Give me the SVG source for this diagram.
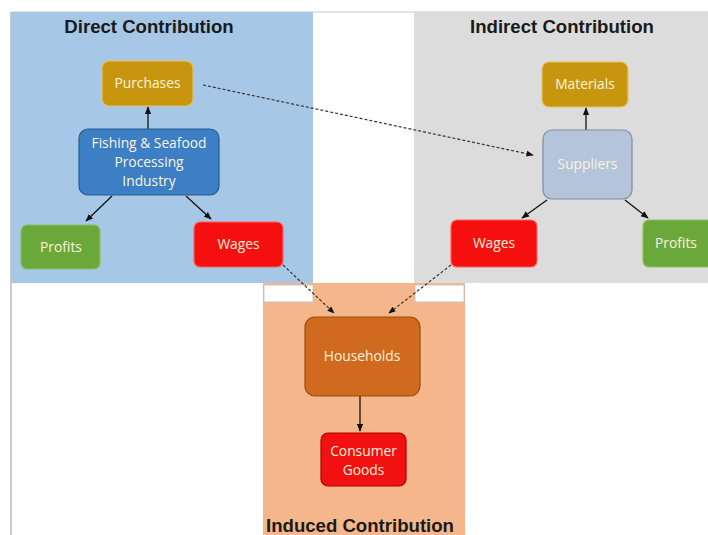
<svg xmlns="http://www.w3.org/2000/svg" width="708" height="535" viewBox="0 0 708 535">
<style>
.title{font-family:"Liberation Sans","DejaVu Sans",sans-serif;font-weight:bold;font-size:18.6px;fill:#1a1a1a;text-anchor:middle}
.lbl{font-family:"Open Sans","Liberation Sans",sans-serif;font-size:13.8px;fill:#fbf3dc;text-anchor:middle}
.box{stroke-width:1.2}
.solid{stroke:#111;stroke-width:1.3;fill:none;marker-end:url(#ah)}
.dash{stroke:#333;stroke-width:1.2;fill:none;stroke-dasharray:3 2;marker-end:url(#ah)}
</style>
<defs>
<marker id="ah" viewBox="0 0 10 10" refX="9" refY="5" markerWidth="6" markerHeight="6" orient="auto">
<path d="M0,1 L10,5 L0,9 z" fill="#111"/>
</marker>
</defs>
<rect width="708" height="535" fill="#ffffff"/>
<line x1="11" y1="12" x2="11" y2="535" stroke="#b8b8b8" stroke-width="1.5"/>
<line x1="11" y1="12" x2="708" y2="12" stroke="#c8c8c8" stroke-width="1"/>
<g id="panel-direct">
<rect x="11" y="12" width="302" height="271" fill="#a7c7e7"/>
<text class="title" x="149" y="33">Direct Contribution</text>
</g>
<g id="panel-indirect">
<rect x="414" y="12" width="294" height="271" fill="#dcdcdc"/>
<text class="title" x="562" y="33">Indirect Contribution</text>
</g>
<g id="panel-induced">
<rect x="263" y="283" width="202" height="252" fill="#f4b68a"/>
<rect x="264" y="285" width="49" height="17" fill="#ffffff" stroke="#bdbdbd" stroke-width="0.8"/>
<rect x="415" y="285" width="49" height="17" fill="#ffffff" stroke="#bdbdbd" stroke-width="0.8"/>
<text class="title" x="360" y="532">Induced Contribution</text>
</g>
<g id="connectors">
<line class="solid" x1="148" y1="129" x2="148" y2="107"/>
<line class="solid" x1="112" y1="196" x2="86" y2="221"/>
<line class="solid" x1="186" y1="196" x2="211" y2="219"/>
<line class="dash" x1="203" y1="85" x2="533" y2="155"/>
<line class="solid" x1="586" y1="130" x2="586" y2="108"/>
<line class="solid" x1="547" y1="200" x2="522" y2="218"/>
<line class="solid" x1="625" y1="200" x2="648" y2="218"/>
<line class="dash" x1="283" y1="265" x2="334" y2="313"/>
<line class="dash" x1="451" y1="265" x2="389" y2="313"/>
<line class="solid" x1="360" y1="396" x2="360" y2="431"/>
</g>
<g id="purchases">
<rect class="box" x="102" y="61" width="91" height="45" rx="7" fill="#c8950e" stroke="#e8c260"/>
<text class="lbl" x="147.5" y="88">Purchases</text>
</g>
<g id="fishing">
<rect class="box" x="79" y="129" width="140" height="66" rx="9" fill="#3d7fc4" stroke="#2a5a8e" stroke-width="2"/>
<text class="lbl" x="149" y="148">Fishing &amp; Seafood</text>
<text class="lbl" x="149" y="167">Processing</text>
<text class="lbl" x="149" y="186">Industry</text>
</g>
<g id="profits-direct">
<rect class="box" x="21" y="225" width="79" height="44" rx="6" fill="#6aa83c" stroke="#8cc060"/>
<text class="lbl" x="61" y="252">Profits</text>
</g>
<g id="wages-direct">
<rect class="box" x="194" y="222" width="89" height="45" rx="6" fill="#f50f0f" stroke="#ff6060"/>
<text class="lbl" x="238.5" y="249">Wages</text>
</g>
<g id="materials">
<rect class="box" x="542" y="62" width="86" height="45" rx="7" fill="#c8950e" stroke="#e8c260"/>
<text class="lbl" x="585" y="89">Materials</text>
</g>
<g id="suppliers">
<rect class="box" x="543" y="130" width="89" height="69" rx="9" fill="#b4c4da" stroke="#7d8da3" stroke-width="2"/>
<text class="lbl" x="587.5" y="169">Suppliers</text>
</g>
<g id="wages-indirect">
<rect class="box" x="451" y="220" width="86" height="47" rx="6" fill="#f50f0f" stroke="#ff6060"/>
<text class="lbl" x="494" y="248">Wages</text>
</g>
<g id="profits-indirect">
<rect class="box" x="643" y="220" width="70" height="47" rx="6" fill="#6aa83c" stroke="#8cc060"/>
<text class="lbl" x="676" y="248">Profits</text>
</g>
<g id="households">
<rect class="box" x="305" y="317" width="115" height="79" rx="10" fill="#cf6a1e" stroke="#9c4c10" stroke-width="1.8"/>
<text class="lbl" x="362" y="361">Households</text>
</g>
<g id="consumer-goods">
<rect class="box" x="321" y="433" width="85" height="53" rx="7" fill="#f21010" stroke="#b00000"/>
<text class="lbl" x="363.5" y="456">Consumer</text>
<text class="lbl" x="363.5" y="475">Goods</text>
</g>
</svg>
